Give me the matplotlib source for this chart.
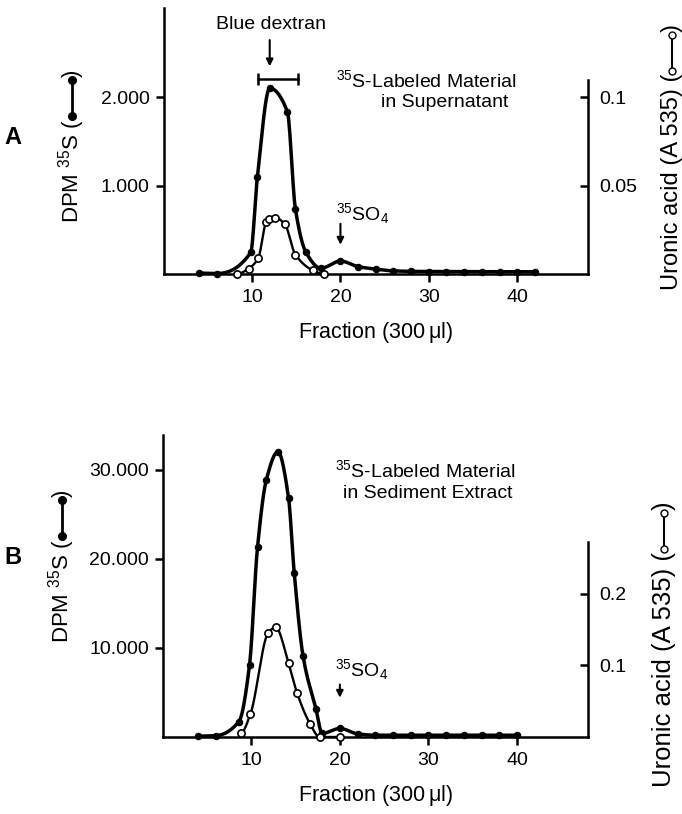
import numpy as np
import matplotlib.pyplot as plt
from matplotlib.lines import Line2D

plt.rcParams['font.family'] = ['Liberation Sans', 'DejaVu Sans']
plt.rcParams['mathtext.default'] = 'regular'

# Panel A - 35S-labeled material in supernatant
frac_a_dpm = [4, 6, 9.85, 10.6, 12.0, 14.0, 14.9, 16.1, 17.8, 20.0, 22.0,
              24, 26, 28, 30, 32, 34, 36, 38, 40, 42]
dpm_a = [10, 5, 245, 1095, 2103, 1835, 740, 245, 65, 147, 83,
         55, 35, 30, 28, 28, 28, 26, 26, 25, 25]
frac_a_uro = [8.3, 9.6, 10.7, 11.6, 11.9, 12.6, 13.7, 14.9, 16.9, 18.1]
uro_a = [0.0, 0.003, 0.009, 0.0294, 0.031, 0.0319, 0.0283, 0.011, 0.002, 0.0]

# Panel B - 35S-labeled material in sediment extract
frac_b_dpm = [4, 6, 8.6, 9.8, 10.7, 11.7, 13.0, 14.2, 14.85, 15.85, 17.3, 18.0,
              20, 22, 24, 26, 28, 30, 32, 34, 36, 38, 40]
dpm_b = [100, 150, 1720, 8100, 21300, 28900, 32050, 26900, 18400, 9050, 3150, 400,
         960, 350, 200, 200, 200, 200, 200, 200, 200, 200, 200]
frac_b_uro = [8.8, 9.9, 11.9, 12.75, 14.2, 15.15, 16.65, 17.7, 20.0]
uro_b = [0.005, 0.032, 0.145, 0.153, 0.1035, 0.062, 0.018, 0.0, 0.0]

x_ticks = [10, 20, 30, 40]


def pchip(x, y, xs):
    # monotone cubic through the measured points, only used for the drawn curve
    x = np.asarray(x, float)
    y = np.asarray(y, float)
    h = np.diff(x)
    d = np.diff(y) / h
    m = np.zeros_like(y)
    for k in range(1, len(x) - 1):
        if d[k - 1] * d[k] > 0:
            w1 = 2 * h[k] + h[k - 1]
            w2 = h[k] + 2 * h[k - 1]
            m[k] = (w1 + w2) / (w1 / d[k - 1] + w2 / d[k])
    idx = np.clip(np.searchsorted(x, xs) - 1, 0, len(x) - 2)
    t = (xs - x[idx]) / h[idx]
    h00 = 2 * t**3 - 3 * t**2 + 1
    h10 = t**3 - 2 * t**2 + t
    h01 = -2 * t**3 + 3 * t**2
    h11 = t**3 - t**2
    return h00 * y[idx] + h10 * h[idx] * m[idx] + h01 * y[idx + 1] + h11 * h[idx] * m[idx + 1]


def draw_curve(ax, x, y, filled):
    xs = np.linspace(x[0], x[-1], 600)
    if filled:
        ax.plot(xs, pchip(x, y, xs), color='k', lw=2.5, zorder=3)
        ax.plot(x, y, 'o', color='k', ms=4.4, zorder=4, clip_on=False)
    else:
        ax.plot(xs, pchip(x, y, xs), color='k', lw=1.7, zorder=3)
        ax.plot(x, y, 'o', mfc='white', mec='k', mew=1.2, ms=5.2, zorder=4, clip_on=False)


def setup_axes(rect, dpm_top, dpm_ticks, dpm_labels, uro_top, uro_bound, uro_ticks, uro_labels):
    ax = fig.add_axes(rect)
    ax.set_xlim(0, 48)
    ax.set_ylim(0, dpm_top)
    ax.spines['top'].set_visible(False)
    ax.spines['right'].set_visible(False)
    for s in ('left', 'bottom'):
        ax.spines[s].set_linewidth(1.8)
    ax.set_xticks(x_ticks)
    ax.set_yticks(dpm_ticks)
    ax.set_yticklabels(dpm_labels)
    ax.tick_params(axis='x', direction='out', length=6, width=1.8, labelsize=14, pad=5)
    ax.tick_params(axis='y', direction='out', length=6, width=1.8, labelsize=14, pad=4)
    ax.set_xlabel('Fraction (300$\\,\\mu$l)', fontsize=15.5, labelpad=10)

    ax2 = ax.twinx()
    ax2.set_ylim(0, uro_top)
    for s in ('left', 'top', 'bottom'):
        ax2.spines[s].set_visible(False)
    ax2.spines['right'].set_linewidth(1.8)
    ax2.spines['right'].set_bounds(0, uro_bound)
    ax2.set_yticks(uro_ticks)
    ax2.set_yticklabels(uro_labels)
    ax2.tick_params(axis='y', direction='in', length=6, width=1.8, labelsize=14, pad=8)
    return ax, ax2


def label_with_key(x_px, y_px, text, filled, size=16):
    W, H = fig.get_size_inches() * fig.dpi
    t = fig.text(x_px / W, 1 - y_px / H, text, rotation=90, ha='center', va='bottom', fontsize=size)
    fig.canvas.draw()
    bb = t.get_window_extent()
    y0 = bb.y1 + 3
    y1 = y0 + 36
    if filled:
        ln = Line2D([x_px / W, x_px / W], [y0 / H, y1 / H], color='k', lw=2, marker='o', ms=5.5)
    else:
        ln = Line2D([x_px / W, x_px / W], [y0 / H, y1 / H], color='k', lw=1.5, marker='o',
                    ms=5, mfc='white', mec='k')
    fig.add_artist(ln)
    fig.text(x_px / W, (y1 + 3) / H, ')', rotation=90, ha='center', va='bottom', fontsize=size)


fig = plt.figure(figsize=(6.82, 8.14), dpi=100)

# ---- panel A
axA, axA2 = setup_axes([0.240, 0.6634, 0.622, 0.3268], 3012, [1000, 2000], ['1.000', '2.000'],
                       0.1506, 0.11, [0.05, 0.1], ['0.05', '0.1'])
draw_curve(axA, frac_a_dpm, dpm_a, True)
draw_curve(axA2, frac_a_uro, uro_a, False)

axA.text(12.2, 2820, 'Blue dextran', ha='center', va='center', fontsize=14)
axA.annotate('', xy=(12.0, 2320), xytext=(12.0, 2680),
             arrowprops=dict(arrowstyle='-|>', color='k', lw=1.5, mutation_scale=10))
axA.plot([10.7, 15.2], [2205, 2205], color='k', lw=1.8, marker='|', ms=8, mew=1.8)
axA.text(19.5, 2197, '$^{35}$S-Labeled Material', ha='left', va='center', fontsize=14)
axA.text(24.6, 1940, 'in Supernatant', ha='left', va='center', fontsize=14)
axA.text(19.5, 690, '$^{35}$SO$_4$', ha='left', va='center', fontsize=14)
axA.annotate('', xy=(20, 300), xytext=(20, 600),
             arrowprops=dict(arrowstyle='-|>', color='k', lw=1.5, mutation_scale=10))

# ---- panel B
axB, axB2 = setup_axes([0.2386, 0.0946, 0.6234, 0.371], 33930,
                       [10000, 20000, 30000], ['10.000', '20.000', '30.000'],
                       0.4212, 0.272, [0.1, 0.2], ['0.1', '0.2'])
draw_curve(axB, frac_b_dpm, dpm_b, True)
draw_curve(axB2, frac_b_uro, uro_b, False)

axB.text(19.5, 30000, '$^{35}$S-Labeled Material', ha='left', va='center', fontsize=14)
axB.text(20.3, 27400, 'in Sediment Extract', ha='left', va='center', fontsize=14)
axB.text(19.5, 7530, '$^{35}$SO$_4$', ha='left', va='center', fontsize=14)
axB.annotate('', xy=(20, 4100), xytext=(20, 6200),
             arrowprops=dict(arrowstyle='-|>', color='k', lw=1.5, mutation_scale=10))

fig.text(13 / 682, 1 - 137 / 814, 'A', ha='center', va='center', fontsize=17, fontweight='bold')
fig.text(13 / 682, 1 - 557 / 814, 'B', ha='center', va='center', fontsize=17, fontweight='bold')

label_with_key(72, 223, 'DPM $^{35}$S (', True)
label_with_key(62, 643, 'DPM $^{35}$S (', True)
label_with_key(672, 290, 'Uronic acid (A 535) (', False, size=17)
label_with_key(664, 787, 'Uronic acid (A 535) (', False, size=18.5)

fig.savefig('out.png', dpi=100)
